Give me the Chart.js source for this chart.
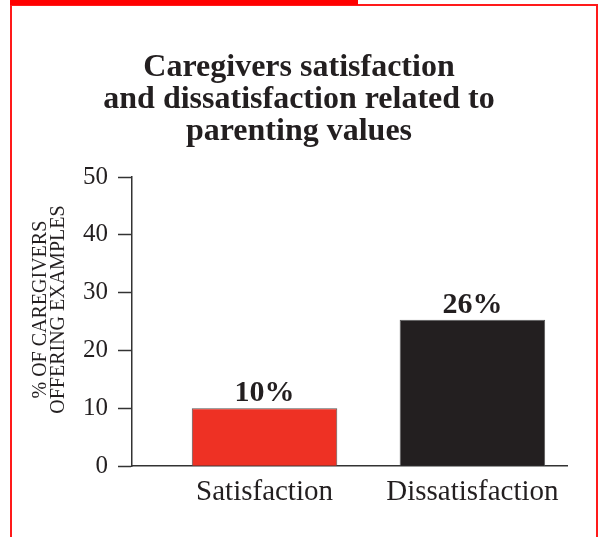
<!DOCTYPE html>
<html>
<head>
<meta charset="utf-8">
<script src="https://cdn.jsdelivr.net/npm/chart.js@4.4.1/dist/chart.umd.min.js"></script>
<style>
  html, body { margin: 0; padding: 0; background: #ffffff; overflow: hidden; }
  .frame {
    position: absolute; left: 10px; top: 4px;
    width: 584px; height: 600px;
    border: 2px solid #ff1a1a;
  }
  .tab {
    position: absolute; left: 10px; top: 0;
    width: 348px; height: 5px;
    background: #ff0000;
  }
  #chart { position: absolute; left: 0; top: 0; }
</style>
</head>
<body>
<div class="frame"></div>
<div class="tab"></div>
<canvas id="chart" width="599" height="537"></canvas>
<script>
// 1. Data
const categories = ["Satisfaction", "Dissatisfaction"];
const percentValues = [10, 25.3];
const valueLabels = ["10%", "26%"];
const barColors = ["#ee3124", "#231f20"];
const yTitleLines = ["% OF CAREGIVERS", "OFFERING EXAMPLES"];
const chartTitle = ["Caregivers satisfaction", "and dissatisfaction related to", "parenting values"];

const serif = "'Liberation Serif', 'Times New Roman', serif";
const inkColor = "#231f20";

// 2. Value labels over the bars
const barLabels = {
  id: "barLabels",
  afterDatasetsDraw(chart) {
    const ctx = chart.ctx;
    const meta = chart.getDatasetMeta(0);
    ctx.save();
    ctx.font = "bold 30px " + serif;
    ctx.fillStyle = inkColor;
    ctx.textAlign = "center";
    ctx.textBaseline = "alphabetic";
    meta.data.forEach((bar, i) => {
      ctx.fillText(valueLabels[i], bar.x, bar.y - 7);
    });
    ctx.restore();
  }
};

// 3. Rotated y axis title (two lines)
const yAxisTitle = {
  id: "yAxisTitle",
  afterDraw(chart) {
    const ctx = chart.ctx;
    const area = chart.chartArea;
    ctx.save();
    ctx.font = "20px " + serif;
    ctx.fillStyle = inkColor;
    ctx.textAlign = "center";
    ctx.textBaseline = "middle";
    ctx.translate(41, (area.top + area.bottom) / 2 - 12);
    ctx.rotate(-Math.PI / 2);
    yTitleLines.forEach((line, i) => {
      ctx.fillText(line, 0, i * 18);
    });
    ctx.restore();
  }
};

// ----- Chart: bars on a linear index axis -----
new Chart(document.getElementById("chart"), {
  type: "bar",
  data: {
    datasets: [{
      data: categories.map((c, i) => ({ x: i, y: percentValues[i] })),
      backgroundColor: barColors,
      borderColor: "#555555",
      borderWidth: 1,
      barPercentage: 0.7,
      categoryPercentage: 1
    }]
  },
  options: {
    responsive: false,
    animation: false,
    layout: {
      padding: { left: 31, right: 32, top: 0, bottom: 26 }
    },
    plugins: {
      legend: { display: false },
      tooltip: { enabled: false },
      title: {
        display: true,
        text: chartTitle,
        color: inkColor,
        font: { family: serif, size: 32, weight: "bold", lineHeight: 1.0 },
        padding: { top: 52, bottom: 29 }
      }
    },
    scales: {
      x: {
        type: "linear",
        offset: false,
        min: -0.6375,
        max: 1.455,
        afterBuildTicks: scale => {
          scale.ticks = categories.map((c, i) => ({ value: i }));
        },
        grid: { display: false },
        border: { display: true, color: "#333333", width: 1.5 },
        ticks: {
          callback: value => categories[value],
          color: inkColor,
          padding: 1,
          maxRotation: 0,
          autoSkip: false,
          font: { family: serif, size: 29 }
        }
      },
      y: {
        min: 0,
        max: 50,
        afterFit: scale => { scale.width = 101; },
        grid: {
          drawOnChartArea: false,
          tickLength: 14,
          tickWidth: 1.5,
          tickColor: "#333333"
        },
        border: { color: "#333333", width: 1.5 },
        ticks: {
          stepSize: 10,
          color: inkColor,
          padding: 10,
          font: { family: serif, size: 25 }
        }
      }
    }
  },
  plugins: [barLabels, yAxisTitle]
});
</script>
</body>
</html>
